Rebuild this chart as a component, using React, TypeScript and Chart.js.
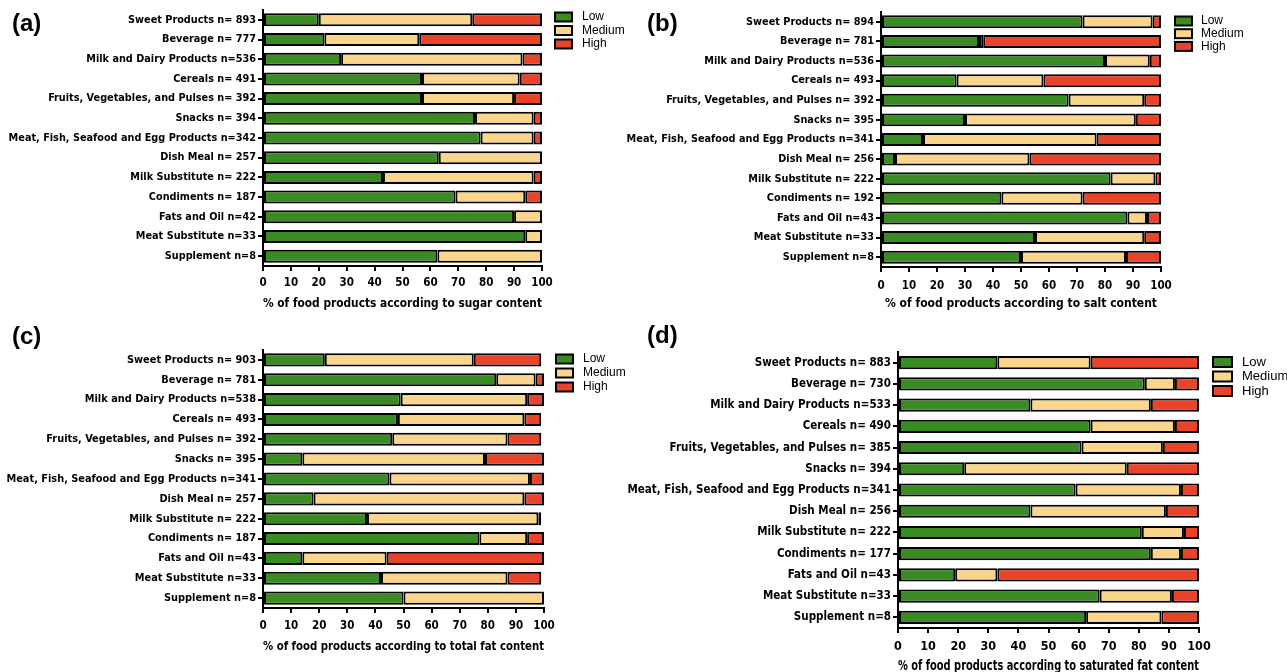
import React, { useEffect, useRef } from "react";
import { Chart, registerables } from "chart.js";

Chart.register(...registerables);

const LEVEL_LABELS = ["Low", "Medium", "High"];
const LEVEL_COLORS = ["#3b8b24", "#f9d68b", "#e9432a"];

// (a) sugar
const sugarCategories = [
  "Sweet Products n= 893",
  "Beverage n= 777",
  "Milk and Dairy Products n=536",
  "Cereals n= 491",
  "Fruits, Vegetables, and Pulses n= 392",
  "Snacks n= 394",
  "Meat, Fish, Seafood and Egg Products n=342",
  "Dish Meal n= 257",
  "Milk Substitute n= 222",
  "Condiments n= 187",
  "Fats and Oil n=42",
  "Meat Substitute n=33",
  "Supplement n=8",
];
const sugarLow = [20, 22, 28, 57, 57, 76, 78, 63, 43, 69, 90, 94, 62.5];
const sugarMedium = [55, 34, 65, 35, 33, 21, 19, 37, 54, 25, 10, 6, 37.5];
const sugarHigh = [25, 44, 7, 8, 10, 3, 3, 0, 3, 6, 0, 0, 0];

// (b) salt
const saltCategories = [
  "Sweet Products n= 894",
  "Beverage n= 781",
  "Milk and Dairy Products n=536",
  "Cereals n= 493",
  "Fruits, Vegetables, and Pulses n= 392",
  "Snacks n= 395",
  "Meat, Fish, Seafood and Egg Products n=341",
  "Dish Meal n= 256",
  "Milk Substitute n= 222",
  "Condiments n= 192",
  "Fats and Oil n=43",
  "Meat Substitute n=33",
  "Supplement n=8",
];
const saltLow = [72, 35, 80, 27, 67, 30, 15, 5, 82, 43, 88, 55, 50];
const saltMedium = [25, 1.5, 16, 31, 27, 61, 62, 48, 16, 29, 7, 39, 37.5];
const saltHigh = [3, 63.5, 4, 42, 6, 9, 23, 47, 2, 28, 5, 6, 12.5];

// (c) total fat
const fatCategories = [
  "Sweet Products n= 903",
  "Beverage n= 781",
  "Milk and Dairy Products n=538",
  "Cereals n= 493",
  "Fruits, Vegetables, and Pulses n= 392",
  "Snacks n= 395",
  "Meat, Fish, Seafood and Egg Products n=341",
  "Dish Meal n= 257",
  "Milk Substitute n= 222",
  "Condiments n= 187",
  "Fats and Oil n=43",
  "Meat Substitute n=33",
  "Supplement n=8",
];
const fatLow = [22, 83, 49, 48, 46, 14, 45, 18, 37, 77, 14, 42, 50];
const fatMedium = [53, 14, 45, 45, 41, 65, 50, 75, 61, 17, 30, 45, 50];
const fatHigh = [24, 3, 6, 6, 12, 21, 5, 7, 1, 6, 56, 12, 0];

// (d) saturated fat
const satCategories = [
  "Sweet Products n= 883",
  "Beverage n= 730",
  "Milk and Dairy Products n=533",
  "Cereals n= 490",
  "Fruits, Vegetables, and Pulses n= 385",
  "Snacks n= 394",
  "Meat, Fish, Seafood and Egg Products n=341",
  "Dish Meal n= 256",
  "Milk Substitute n= 222",
  "Condiments n= 177",
  "Fats and Oil n=43",
  "Meat Substitute n=33",
  "Supplement n=8",
];
const satLow = [33, 82, 44, 64, 61, 22, 59, 44, 81, 84, 19, 67, 62.5];
const satMedium = [31, 10, 40, 28, 27, 54, 35, 45, 14, 10, 14, 24, 25];
const satHigh = [36, 8, 16, 8, 12, 24, 6, 11, 5, 6, 67, 9, 12.5];

const xTickValues = [0, 10, 20, 30, 40, 50, 60, 70, 80, 90, 100];

const NARROW = "'Liberation Sans Narrow', 'Arial Narrow', 'DejaVu Sans Condensed', sans-serif";
const REGULAR = "'Liberation Sans', Arial, Helvetica, sans-serif";

const sideLegend = {
  id: "sideLegend",
  afterDraw(chart: any, _args: any, opts: any) {
    const ctx = chart.ctx;
    const { x, y, rowH, boxW, boxH, gap, fontSize } = opts;
    chart.data.datasets.forEach((ds: any, i: number) => {
      const cy = y + i * rowH;
      ctx.save();
      ctx.fillStyle = ds.backgroundColor;
      ctx.fillRect(x, cy - boxH / 2, boxW, boxH);
      ctx.lineWidth = 2;
      ctx.strokeStyle = "#000";
      ctx.strokeRect(x, cy - boxH / 2, boxW, boxH);
      ctx.fillStyle = "#000";
      ctx.font = `${fontSize}px ${REGULAR}`;
      ctx.textBaseline = "middle";
      ctx.textAlign = "left";
      ctx.fillText(ds.label, x + boxW + gap, cy);
      ctx.restore();
    });
  },
};

type Geom = {
  cx: number; cy: number; W: number; H: number;
  L: number; R: number; T: number; B: number;
  tickPad: number; titlePad: number;
  yFont: number; tickFont: number; titleFont: number; barPct: number;
  legend: { x: number; y: number; rowH: number; boxW: number; boxH: number; gap: number; fontSize: number };
};

function Panel({ geom, categories, low, medium, high, title }: {
  geom: Geom; categories: string[]; low: number[]; medium: number[]; high: number[]; title: string;
}) {
  const ref = useRef<HTMLCanvasElement | null>(null);
  useEffect(() => {
    if (!ref.current) return;
    const g = geom;
    const series = [low, medium, high];
    const chart = new Chart(ref.current, {
      type: "bar",
      data: {
        labels: categories,
        datasets: series.map((d, i) => ({
          label: LEVEL_LABELS[i],
          data: d,
          backgroundColor: LEVEL_COLORS[i],
          borderColor: "#000",
          borderWidth: 2,
          borderSkipped: false,
          categoryPercentage: 1,
          barPercentage: g.barPct,
        })),
      },
      options: {
        indexAxis: "y",
        responsive: false,
        animation: false,
        layout: { padding: { left: 0, top: g.T, right: g.W - g.R, bottom: 0 } },
        scales: {
          x: {
            stacked: true,
            min: 0,
            max: 100,
            afterBuildTicks: (s: any) => {
              s.ticks = xTickValues.map((v) => ({ value: v }));
            },
            afterFit: (s: any) => {
              s.height = g.H - g.B;
            },
            ticks: {
              color: "#000",
              padding: g.tickPad,
              font: { family: NARROW, size: g.tickFont, weight: "bold" },
              maxRotation: 0,
            },
            grid: {
              display: true,
              drawOnChartArea: false,
              drawTicks: true,
              tickLength: 5,
              color: "#000",
              lineWidth: 2,
            },
            border: { display: true, color: "#000", width: 2 },
            title: {
              display: true,
              text: title,
              color: "#000",
              font: { family: NARROW, size: g.titleFont, weight: "bold" },
              padding: { top: 0, bottom: g.titlePad },
            },
          },
          y: {
            stacked: true,
            afterFit: (s: any) => {
              s.width = g.L;
            },
            ticks: {
              color: "#000",
              padding: 2,
              autoSkip: false,
              font: { family: NARROW, size: g.yFont, weight: "bold" },
            },
            grid: {
              display: true,
              offset: false,
              drawOnChartArea: false,
              drawTicks: true,
              tickLength: 5,
              color: "#000",
              lineWidth: 2,
            },
            border: { display: true, color: "#000", width: 2 },
          },
        },
        plugins: {
          legend: { display: false },
          tooltip: { enabled: false },
          sideLegend: g.legend,
        } as any,
      },
      plugins: [sideLegend as any],
    } as any);
    return () => chart.destroy();
  }, [geom, categories, low, medium, high, title]);

  return (
    <canvas
      ref={ref}
      width={geom.W}
      height={geom.H}
      style={{ position: "absolute", left: geom.cx, top: geom.cy, width: geom.W, height: geom.H }}
    />
  );
}

const geomA: Geom = {
  cx: 0, cy: 0, W: 640, H: 320, L: 263, R: 542, T: 10, B: 266, tickPad: 5, titlePad: 9,
  yFont: 10.8, tickFont: 11.5, titleFont: 12.5, barPct: 0.66,
  legend: { x: 555, y: 17, rowH: 13.5, boxW: 17, boxH: 9, gap: 10, fontSize: 12 },
};
const geomB: Geom = {
  cx: 590, cy: 0, W: 697, H: 320, L: 291, R: 571, T: 12, B: 267, tickPad: 7, titlePad: 9,
  yFont: 10.8, tickFont: 11.5, titleFont: 12, barPct: 0.66,
  legend: { x: 585, y: 21, rowH: 12.7, boxW: 17, boxH: 9, gap: 9, fontSize: 12 },
};
const geomC: Geom = {
  cx: 0, cy: 320, W: 640, H: 352, L: 263, R: 544, T: 30, B: 288, tickPad: 6, titlePad: 18,
  yFont: 10.9, tickFont: 11.5, titleFont: 12.7, barPct: 0.66,
  legend: { x: 556, y: 39, rowH: 14, boxW: 17, boxH: 9, gap: 10, fontSize: 12 },
};
const geomD: Geom = {
  cx: 590, cy: 320, W: 697, H: 362, L: 308, R: 609, T: 32, B: 308, tickPad: 6.5, titlePad: 7,
  yFont: 11.5, tickFont: 12.5, titleFont: 14.5, barPct: 0.62,
  legend: { x: 623, y: 42, rowH: 14.5, boxW: 19, boxH: 10, gap: 10, fontSize: 13 },
};

const tagStyle = (left: number, top: number): React.CSSProperties => ({
  position: "absolute",
  left,
  top,
  fontFamily: REGULAR,
  fontWeight: "bold",
  fontSize: 24,
  lineHeight: 1,
  color: "#000",
});

export default function App() {
  return (
    <div
      style={{
        position: "absolute",
        left: 0,
        top: 0,
        width: 1287,
        height: 672,
        overflow: "hidden",
        background: "#fff",
      }}
    >
      <Panel geom={geomA} categories={sugarCategories} low={sugarLow} medium={sugarMedium} high={sugarHigh}
        title="% of food products according to sugar content" />
      <Panel geom={geomB} categories={saltCategories} low={saltLow} medium={saltMedium} high={saltHigh}
        title="% of food products according to salt content" />
      <Panel geom={geomC} categories={fatCategories} low={fatLow} medium={fatMedium} high={fatHigh}
        title="% of food products according to total fat content" />
      <Panel geom={geomD} categories={satCategories} low={satLow} medium={satMedium} high={satHigh}
        title="% of food products according to saturated fat content" />
      <div style={tagStyle(12, 11)}>(a)</div>
      <div style={tagStyle(647, 11)}>(b)</div>
      <div style={tagStyle(12, 324)}>(c)</div>
      <div style={tagStyle(647, 323)}>(d)</div>
    </div>
  );
}
